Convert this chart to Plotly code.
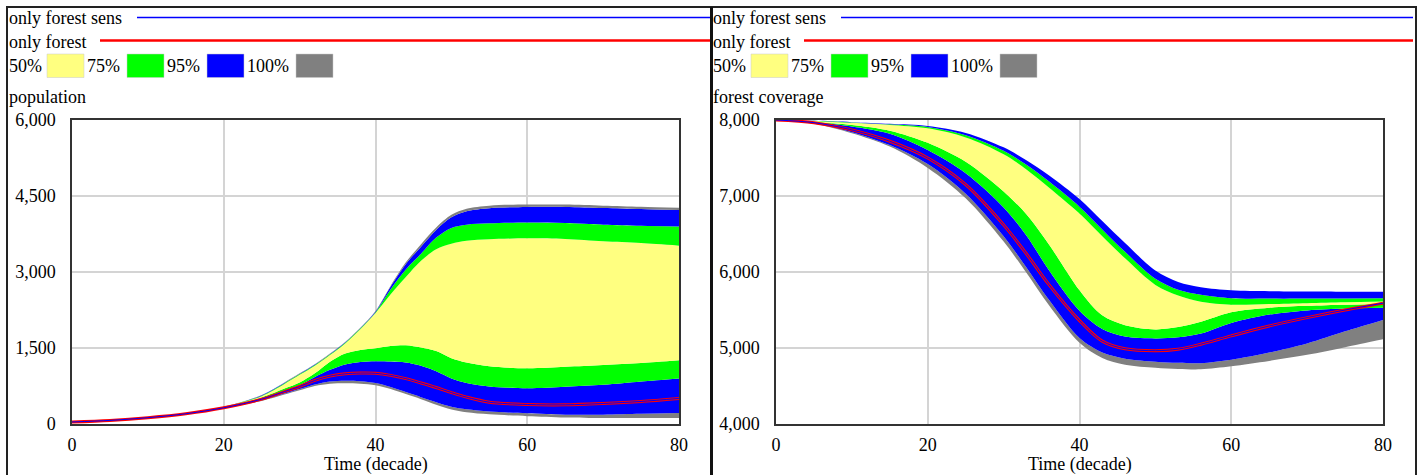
import plotly.graph_objects as go

W, H = 1421, 475

# ---------------- data: population (left panel) ----------------
pop_t = [0, 5, 10, 15, 20, 25, 28, 30, 32, 34, 36, 38, 40, 42, 44, 46, 48, 50, 52, 55, 60, 65, 70, 75, 80]
pop_max = [45, 76, 132, 212, 340, 570, 820, 1000, 1180, 1390, 1620, 1900, 2230, 2730, 3190, 3550, 3880, 4130, 4250, 4310, 4330, 4330, 4310, 4290, 4270]
pop_u95 = [44, 75, 131, 211, 338, 566, 812, 992, 1172, 1382, 1612, 1892, 2220, 2715, 3160, 3500, 3830, 4080, 4200, 4260, 4285, 4285, 4265, 4245, 4225]
pop_u75 = [43, 74, 130, 210, 335, 560, 805, 985, 1165, 1375, 1605, 1885, 2205, 2660, 3050, 3360, 3680, 3870, 3935, 3960, 3975, 3965, 3935, 3915, 3900]
pop_u50 = [42, 73, 129, 208, 332, 550, 790, 970, 1150, 1360, 1590, 1870, 2190, 2560, 2900, 3220, 3450, 3560, 3615, 3645, 3665, 3650, 3605, 3570, 3520]
pop_l50 = [40, 72, 127, 205, 325, 525, 700, 820, 1000, 1230, 1390, 1460, 1494, 1540, 1555, 1510, 1440, 1300, 1215, 1140, 1100, 1130, 1165, 1205, 1260]
pop_l75 = [40, 71, 126, 203, 322, 505, 660, 770, 930, 1070, 1175, 1225, 1240, 1235, 1215, 1150, 1040, 900, 810, 740, 705, 735, 775, 840, 900]
pop_l95 = [39, 70, 124, 200, 318, 470, 600, 690, 780, 840, 855, 845, 810, 730, 630, 530, 430, 340, 290, 245, 210, 185, 185, 200, 215]
pop_min = [38, 69, 123, 198, 314, 455, 580, 665, 750, 795, 805, 795, 765, 690, 590, 490, 380, 285, 230, 190, 155, 130, 120, 118, 118]
pop_only_forest = [40, 71, 125, 202, 320, 490, 640, 740, 860, 945, 990, 1005, 1000, 960, 895, 810, 720, 620, 530, 430, 385, 378, 405, 445, 505]
pop_only_forest_sens = [40, 71, 125, 202, 320, 490, 640, 740, 860, 945, 990, 1005, 1000, 960, 895, 810, 720, 620, 530, 430, 385, 378, 405, 445, 505]

# ---------------- data: forest coverage (right panel) ----------------
fc_t = [0, 5, 10, 15, 20, 25, 30, 33, 36, 40, 43, 46, 50, 53, 56, 60, 65, 70, 75, 80]
fc_max = [8000, 7992, 7972, 7950, 7921, 7830, 7640, 7470, 7270, 6960, 6670, 6380, 6020, 5870, 5800, 5760, 5748, 5743, 5741, 5741]
fc_u95 = [8000, 7992, 7972, 7950, 7921, 7830, 7640, 7470, 7270, 6960, 6670, 6380, 6020, 5870, 5800, 5760, 5748, 5743, 5741, 5741]
fc_u75 = [8000, 7990, 7968, 7943, 7908, 7800, 7595, 7410, 7190, 6860, 6560, 6265, 5910, 5765, 5700, 5655, 5650, 5650, 5652, 5654]
fc_u50 = [8000, 7988, 7963, 7935, 7890, 7770, 7550, 7350, 7110, 6770, 6470, 6180, 5830, 5690, 5610, 5570, 5578, 5590, 5602, 5612]
fc_l50 = [8000, 7975, 7935, 7860, 7700, 7450, 7060, 6760, 6360, 5760, 5430, 5300, 5245, 5275, 5345, 5470, 5530, 5555, 5570, 5580]
fc_l75 = [8000, 7970, 7915, 7820, 7605, 7300, 6850, 6480, 6020, 5490, 5250, 5150, 5125, 5140, 5190, 5330, 5440, 5495, 5520, 5530]
fc_l95 = [8000, 7955, 7840, 7670, 7420, 7030, 6470, 6060, 5630, 5130, 4940, 4860, 4820, 4805, 4800, 4845, 4940, 5060, 5220, 5370]
fc_min = [8000, 7950, 7825, 7650, 7370, 6970, 6400, 5990, 5560, 5070, 4870, 4780, 4740, 4725, 4720, 4760, 4830, 4910, 5010, 5115]
fc_only_forest = [8000, 7965, 7870, 7720, 7500, 7150, 6620, 6240, 5830, 5360, 5090, 4990, 4965, 4985, 5050, 5160, 5290, 5400, 5500, 5590]
fc_only_forest_sens = [8000, 7965, 7870, 7720, 7500, 7150, 6620, 6240, 5830, 5360, 5090, 4990, 4965, 4985, 5050, 5160, 5290, 5400, 5500, 5590]

x_ticks = [0, 20, 40, 60, 80]
pop_ticks = [0, 1500, 3000, 4500, 6000]
pop_ticktext = ["0", "1,500", "3,000", "4,500", "6,000"]
fc_ticks = [4000, 5000, 6000, 7000, 8000]
fc_ticktext = ["4,000", "5,000", "6,000", "7,000", "8,000"]

band_labels = ["50%", "75%", "95%", "100%"]
YELLOW, GREEN, BLUE, GRAY = "#ffff80", "#00ff00", "#0000ff", "#808080"
band_colors = [YELLOW, GREEN, BLUE, GRAY]

FONT = "Liberation Serif, Times New Roman, serif"

fig = go.Figure()


def add_panel(t, lo100, lo95, lo75, lo50, hi50, hi75, hi95, hi100, base, sens, xa, ya):
    seq = [(lo100, None), (lo95, GRAY), (lo75, BLUE), (lo50, GREEN),
           (hi50, YELLOW), (hi75, GREEN), (hi95, BLUE), (hi100, GRAY)]
    for vals, col in seq:
        fig.add_trace(go.Scatter(
            x=t, y=vals, mode="lines", xaxis=xa, yaxis=ya,
            line=dict(width=0, shape="spline", smoothing=0.9),
            fill=None if col is None else "tonexty",
            fillcolor=col, hoverinfo="skip"))
    fig.add_trace(go.Scatter(x=t, y=base, mode="lines", xaxis=xa, yaxis=ya,
                             line=dict(color="#ff0000", width=3, shape="spline", smoothing=0.9)))
    fig.add_trace(go.Scatter(x=t, y=sens, mode="lines", xaxis=xa, yaxis=ya,
                             line=dict(color="#0000ff", width=1, shape="spline", smoothing=0.9)))


add_panel(pop_t, pop_min, pop_l95, pop_l75, pop_l50, pop_u50, pop_u75, pop_u95, pop_max,
          pop_only_forest, pop_only_forest_sens, "x", "y")
add_panel(fc_t, fc_min, fc_l95, fc_l75, fc_l50, fc_u50, fc_u75, fc_u95, fc_max,
          fc_only_forest, fc_only_forest_sens, "x2", "y2")


def px(x):
    return x / W


def py(y):
    return 1 - y / H


axis_common = dict(showline=True, linecolor="#333333", linewidth=1.5, mirror=True,
                   showgrid=True, gridcolor="#d4d4d4", gridwidth=1.5, zeroline=False,
                   automargin=False,
                   ticks="", tickfont=dict(family=FONT, size=18, color="black"))

fig.update_layout(
    width=W, height=H,
    margin=dict(l=0, r=0, t=0, b=0, pad=0, autoexpand=False),
    paper_bgcolor="white", plot_bgcolor="white", showlegend=False,
    xaxis=dict(domain=[px(72), px(679)], range=[0, 80], tickvals=x_ticks,
               anchor="y", ticklabelstandoff=4, **axis_common),
    yaxis=dict(domain=[py(424), py(120)], range=[0, 6000], tickvals=pop_ticks,
               ticktext=pop_ticktext, anchor="x", ticklabelstandoff=11, **axis_common),
    xaxis2=dict(domain=[px(776), px(1383)], range=[0, 80], tickvals=x_ticks,
                anchor="y2", ticklabelstandoff=4, **axis_common),
    yaxis2=dict(domain=[py(424), py(120)], range=[4000, 8000], tickvals=fc_ticks,
                ticktext=fc_ticktext, anchor="x2", ticklabelstandoff=11, **axis_common),
)

shapes = []
annotations = []


def text(x, y, s, anchor="left"):
    annotations.append(dict(x=px(x), y=py(y), xref="paper", yref="paper", text=s,
                            showarrow=False, xanchor=anchor, yanchor="middle",
                            font=dict(family=FONT, size=18, color="black")))


for off, ytitle, xcenter, blue_start, red_start, end in [
        (0, "population", 375.5, 137, 100, 711),
        (704, "forest coverage", 1079.5, 841, 804, 1413)]:
    text(7 + off, 18, "only forest sens")
    text(7 + off, 42, "only forest")
    shapes.append(dict(type="line", xref="paper", yref="paper", x0=px(blue_start), x1=px(end),
                       y0=py(17.5), y1=py(17.5), line=dict(color="#0000ff", width=1.3)))
    shapes.append(dict(type="line", xref="paper", yref="paper", x0=px(red_start), x1=px(end),
                       y0=py(40.5), y1=py(40.5), line=dict(color="#ff0000", width=2.5)))
    label_x = [7, 85, 165, 245]
    swatch_x = [47, 127, 207, 296]
    for lab, lx, sx, col in zip(band_labels, label_x, swatch_x, band_colors):
        text(lx + off, 66, lab)
        shapes.append(dict(type="rect", xref="paper", yref="paper",
                           x0=px(sx + off), x1=px(sx + 37 + off), y0=py(77.5), y1=py(54),
                           fillcolor=col, line=dict(color="#c8c8c8", width=0.5)))
    text(7 + off, 97, ytitle)
    text(xcenter, 464, "Time (decade)", anchor="center")

# panel borders
shapes.append(dict(type="rect", xref="paper", yref="paper", x0=px(7), x1=px(1416),
                   y0=py(480), y1=py(7), line=dict(color="#222222", width=2)))
shapes.append(dict(type="line", xref="paper", yref="paper", x0=px(711.5), x1=px(711.5),
                   y0=py(480), y1=py(7), line=dict(color="#111111", width=3)))

fig.update_layout(shapes=shapes, annotations=annotations)

fig.write_html("out.html")
